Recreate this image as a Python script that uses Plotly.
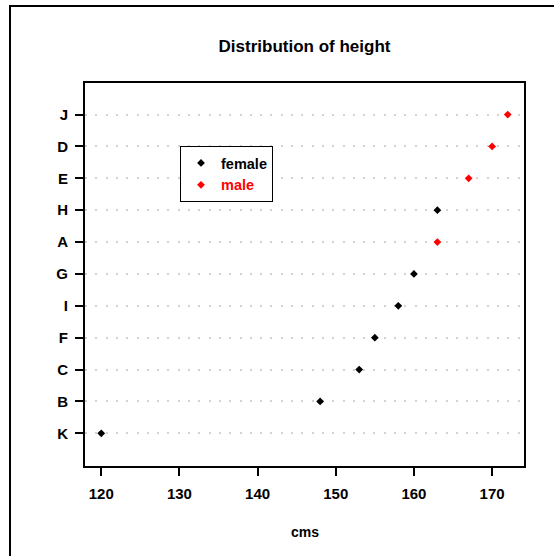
import plotly.graph_objects as go

# Data (bottom to top as drawn)
names = ["K", "B", "C", "F", "I", "G", "A", "H", "E", "D", "J"]
heights = [120, 148, 153, 155, 158, 160, 163, 163, 167, 170, 172]
gender = ["female", "female", "female", "female", "female", "female",
          "male", "female", "male", "male", "male"]
groups = ["female", "male"]
group_colors = {"female": "#000000", "male": "#FF0000"}
x_ticks = [120, 130, 140, 150, 160, 170]

FONT = "Liberation Sans, Arial, Helvetica, sans-serif"

W, H = 554, 556
L, R, T, B = 85, 30, 83, 90
pw, ph = W - L - R, H - T - B


def px_x(p):
    return (p - L) / pw


def px_y(p):
    return (H - B - p) / ph


fig = go.Figure()
for g in groups:
    xs = [h for h, gg in zip(heights, gender) if gg == g]
    ys = [n for n, gg in zip(names, gender) if gg == g]
    label = g if g == "female" else "<span style='color:#FF0000'>%s</span>" % g
    fig.add_trace(go.Scatter(
        x=xs, y=ys, mode="markers", name=label,
        marker=dict(symbol="diamond", size=6, color=group_colors[g],
                    line=dict(width=0)),
    ))

fig.update_layout(
    width=W, height=H,
    margin=dict(l=L, r=R, t=T, b=B),
    paper_bgcolor="white", plot_bgcolor="white",
    font=dict(family=FONT, size=14, color="black"),
    title=dict(text="<b>Distribution of height</b>", x=(L + pw / 2) / W,
               xanchor="center", y=1 - 46 / H, yanchor="middle",
               font=dict(family=FONT, size=17, color="black")),
    showlegend=True,
    legend=dict(x=px_x(180), y=px_y(146), xanchor="left", yanchor="top",
                bordercolor="black", borderwidth=1, bgcolor="white",
                font=dict(family=FONT, size=14.5, color="black", weight="bold"),
                itemsizing="trace", tracegroupgap=0),
    xaxis=dict(range=[117.92, 174.08], tickvals=x_ticks, ticktext=[str(v) for v in x_ticks],
               showgrid=False, zeroline=False, showline=True, mirror=True,
               linecolor="black", linewidth=2, ticks="outside", ticklen=8,
               tickwidth=1.5, tickcolor="black",
               tickfont=dict(family=FONT, size=15, weight="bold"),
               ticklabelstandoff=5),
    yaxis=dict(type="category", categoryorder="array", categoryarray=names,
               range=[-1.025, 10.99],
               showgrid=True, gridcolor="#D3D3D3", gridwidth=1.5, griddash="2px,8.3px",
               zeroline=False, showline=True, mirror=True,
               linecolor="black", linewidth=2, ticks="outside", ticklen=8,
               tickwidth=1.5, tickcolor="black",
               tickfont=dict(family=FONT, size=15, weight="bold"),
               ticklabelstandoff=4),
)

fig.add_annotation(text="<b>cms</b>", xref="paper", yref="paper",
                   x=0.5, y=px_y(532), xanchor="center", yanchor="middle",
                   showarrow=False, font=dict(family=FONT, size=14, color="black"))

# outer frame
fig.add_shape(type="rect", xref="paper", yref="paper",
              x0=px_x(10), y0=px_y(620), x1=px_x(620), y1=px_y(6),
              line=dict(color="black", width=2), fillcolor="rgba(0,0,0,0)", layer="above")

fig.write_html("out.html")
